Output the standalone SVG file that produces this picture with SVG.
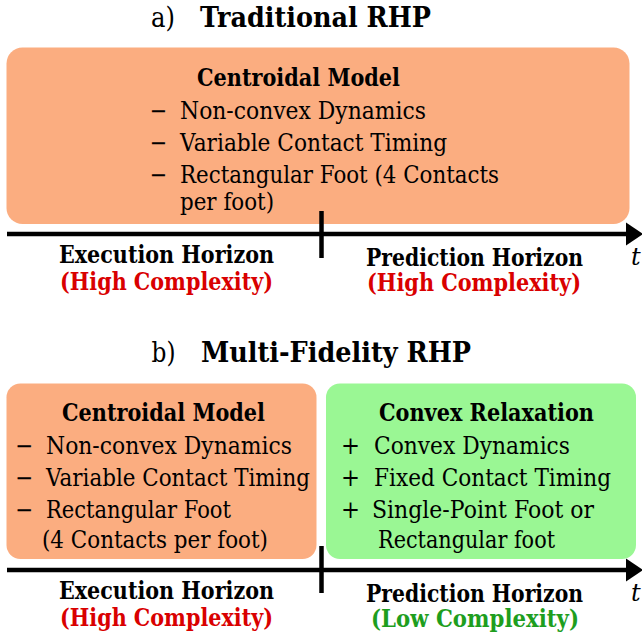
<svg xmlns="http://www.w3.org/2000/svg" width="642" height="635" viewBox="0 0 642 635">
<style>
text{font-family:"DejaVu Serif","Liberation Serif",serif;fill:#000}
.title{font-size:27.5px}
.hb{font-size:24px;font-weight:bold}
.it{font-size:24px}
.sym{font-size:24px}
.red{fill:#D90000}
.grn{fill:#1E9E1E}
.orange{fill:#FBAD80}
.green{fill:#9AF794}
.axis{stroke:#000;stroke-width:4.5;fill:none}
</style>
<rect width="642" height="635" fill="#fff"/>

<g id="title-a">
<text class="title" x="151" y="27" textLength="24" lengthAdjust="spacingAndGlyphs">a)</text>
<text class="title" x="200" y="27" font-weight="bold" textLength="231" lengthAdjust="spacingAndGlyphs">Traditional RHP</text>
</g>

<g id="node-a-centroidal">
<rect class="orange" x="6.5" y="47.5" width="623" height="176.5" rx="16"/>
<text class="hb" x="197" y="86" textLength="203" lengthAdjust="spacingAndGlyphs">Centroidal Model</text>
<text class="sym" x="149.5" y="118.5" textLength="17.5" lengthAdjust="spacingAndGlyphs">−</text>
<text class="it" x="180" y="118.5" textLength="246" lengthAdjust="spacingAndGlyphs">Non-convex Dynamics</text>
<text class="sym" x="149.5" y="150.5" textLength="17.5" lengthAdjust="spacingAndGlyphs">−</text>
<text class="it" x="180" y="150.5" textLength="267" lengthAdjust="spacingAndGlyphs">Variable Contact Timing</text>
<text class="sym" x="149.5" y="182.5" textLength="17.5" lengthAdjust="spacingAndGlyphs">−</text>
<text class="it" x="180" y="182.5" textLength="319" lengthAdjust="spacingAndGlyphs">Rectangular Foot (4 Contacts</text>
<text class="it" x="180" y="210" textLength="94" lengthAdjust="spacingAndGlyphs">per foot)</text>
</g>

<g id="connectors">
<line class="axis" x1="7" y1="234" x2="630" y2="234"/>
<polygon points="626,222.5 643,234 626,245.5" fill="#000"/>
<line class="axis" x1="321.5" y1="211" x2="321.5" y2="258"/>
<line class="axis" x1="7" y1="570" x2="630" y2="570"/>
<polygon points="626,558.5 643,570 626,581.5" fill="#000"/>
<line class="axis" x1="321.5" y1="546" x2="321.5" y2="593"/>
</g>

<g id="labels-a">
<text class="hb" x="59" y="263" textLength="215" lengthAdjust="spacingAndGlyphs">Execution Horizon</text>
<text class="hb red" x="60" y="289.5" textLength="213" lengthAdjust="spacingAndGlyphs">(High Complexity)</text>
<text class="hb" x="366" y="266" textLength="217" lengthAdjust="spacingAndGlyphs">Prediction Horizon</text>
<text class="hb red" x="367" y="290.5" textLength="214" lengthAdjust="spacingAndGlyphs">(High Complexity)</text>
<text class="it" x="631" y="265" font-style="italic">t</text>
</g>

<g id="title-b">
<text class="title" x="151.5" y="362" textLength="24" lengthAdjust="spacingAndGlyphs">b)</text>
<text class="title" x="201" y="362" font-weight="bold" textLength="270" lengthAdjust="spacingAndGlyphs">Multi-Fidelity RHP</text>
</g>

<g id="node-b-centroidal">
<rect class="orange" x="6.5" y="383.5" width="310" height="175.5" rx="14"/>
<text class="hb" x="62" y="421" textLength="203" lengthAdjust="spacingAndGlyphs">Centroidal Model</text>
<text class="sym" x="15" y="453.5" textLength="18" lengthAdjust="spacingAndGlyphs">−</text>
<text class="it" x="46" y="453.5" textLength="246" lengthAdjust="spacingAndGlyphs">Non-convex Dynamics</text>
<text class="sym" x="15" y="486" textLength="18" lengthAdjust="spacingAndGlyphs">−</text>
<text class="it" x="46" y="486" textLength="264" lengthAdjust="spacingAndGlyphs">Variable Contact Timing</text>
<text class="sym" x="15" y="518" textLength="18" lengthAdjust="spacingAndGlyphs">−</text>
<text class="it" x="46" y="518" textLength="185" lengthAdjust="spacingAndGlyphs">Rectangular Foot</text>
<text class="it" x="42" y="548" textLength="226" lengthAdjust="spacingAndGlyphs">(4 Contacts per foot)</text>
</g>

<g id="node-b-convex">
<rect class="green" x="326" y="383.5" width="310" height="175.5" rx="14"/>
<text class="hb" x="379" y="421" textLength="215" lengthAdjust="spacingAndGlyphs">Convex Relaxation</text>
<text class="sym" x="341" y="453.5" textLength="19" lengthAdjust="spacingAndGlyphs">+</text>
<text class="it" x="374" y="453.5" textLength="196" lengthAdjust="spacingAndGlyphs">Convex Dynamics</text>
<text class="sym" x="341" y="486" textLength="19" lengthAdjust="spacingAndGlyphs">+</text>
<text class="it" x="374" y="486" textLength="237" lengthAdjust="spacingAndGlyphs">Fixed Contact Timing</text>
<text class="sym" x="341" y="518" textLength="19" lengthAdjust="spacingAndGlyphs">+</text>
<text class="it" x="372" y="518" textLength="222" lengthAdjust="spacingAndGlyphs">Single-Point Foot or</text>
<text class="it" x="378" y="548" textLength="177" lengthAdjust="spacingAndGlyphs">Rectangular foot</text>
</g>

<g id="labels-b">
<text class="hb" x="59" y="599" textLength="215" lengthAdjust="spacingAndGlyphs">Execution Horizon</text>
<text class="hb red" x="60" y="625.5" textLength="213" lengthAdjust="spacingAndGlyphs">(High Complexity)</text>
<text class="hb" x="366" y="602" textLength="217" lengthAdjust="spacingAndGlyphs">Prediction Horizon</text>
<text class="hb grn" x="371" y="626.5" textLength="208" lengthAdjust="spacingAndGlyphs">(Low Complexity)</text>
<text class="it" x="631" y="601" font-style="italic">t</text>
</g>
</svg>
